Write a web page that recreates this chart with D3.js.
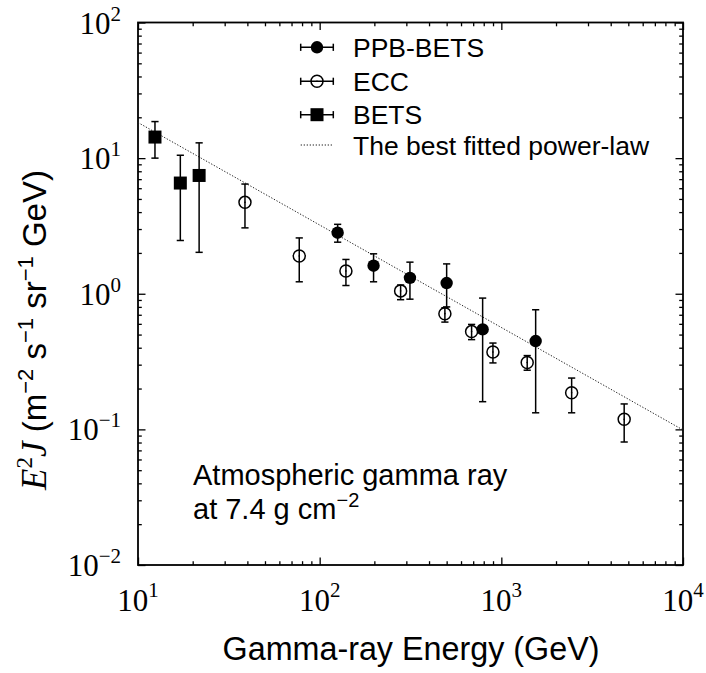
<!DOCTYPE html>
<html>
<head>
<meta charset="utf-8">
<script src="https://cdn.jsdelivr.net/npm/d3@7"></script>
<style>
  html, body { margin: 0; padding: 0; background: #fff; }
  svg { display: block; }
</style>
</head>
<body>
<svg id="chart" width="706" height="673"></svg>
<script>
// ---------- data ----------
const ppbE  = [125.6, 198, 314, 500, 789, 1545];
const ppbV  = [2.82, 1.61, 1.31, 1.20, 0.546, 0.448];
const ppbLo = [2.40, 1.225, 0.912, 0.80, 0.16, 0.1325];
const ppbHi = [3.25, 1.97, 1.71, 1.66, 0.929, 0.762];

const eccE  = [38.8, 77.2, 139.5, 279, 489, 686, 899, 1388, 2438, 4745];
const eccV  = [4.72, 1.90, 1.47, 1.05, 0.713, 0.526, 0.372, 0.311, 0.186, 0.1186];
const eccLo = [3.06, 1.225, 1.15, 0.904, 0.618, 0.459, 0.309, 0.273, 0.1325, 0.0807];
const eccHi = [6.44, 2.58, 1.79, 1.16, 0.789, 0.594, 0.433, 0.35, 0.239, 0.154];

const betsE  = [12.4, 17.1, 21.7];
const betsV  = [14.3, 6.55, 7.45];
const betsLo = [10.0, 2.47, 2.02];
const betsHi = [18.6, 10.5, 12.96];

// best fitted power law, end points on the frame
const fitE = [10, 10000];
const fitV = [18.3, 0.099];

const xTickExp = [1, 2, 3, 4];
const yTickExp = [-2, -1, 0, 1, 2];
const legendLabels = ["PPB-BETS", "ECC", "BETS", "The best fitted power-law"];

// ---------- layout ----------
const svg = d3.select("#chart");
const L = 138, R = 683, T = 22.5, B = 565;
const x = d3.scaleLog().domain([10, 1e4]).range([L, R]);
const y = d3.scaleLog().domain([1e-2, 1e2]).range([B, T]);
const SERIF = "'Liberation Serif', 'Times New Roman', serif";
const SANS = "'Liberation Sans', Arial, Helvetica, sans-serif";
const MINUS = "\u2212";

function minors(lo, hi) {
  const out = [];
  for (let e = lo; e < hi; e++) for (let k = 2; k <= 9; k++) out.push(k * Math.pow(10, e));
  return out;
}
const xMajor = xTickExp.map(e => Math.pow(10, e));
const yMajor = yTickExp.map(e => Math.pow(10, e));
const xMinor = minors(1, 4);
const yMinor = minors(-2, 2);

// ---------- ticks (inward, on all four sides) ----------
function axisGroup(axisFn, scale, vals, size, tr) {
  const g = svg.append("g").attr("transform", tr)
    .call(axisFn(scale).tickValues(vals).tickSize(size).tickFormat(""));
  g.select(".domain").remove();
  g.selectAll(".tick line").attr("stroke", "#000").attr("stroke-width", 1.3);
}
const MJ = 7.5, MN = 3.8;
axisGroup(d3.axisBottom, x, xMajor, -MJ, `translate(0,${B})`);
axisGroup(d3.axisBottom, x, xMinor, -MN, `translate(0,${B})`);
axisGroup(d3.axisTop, x, xMajor, -MJ, `translate(0,${T})`);
axisGroup(d3.axisTop, x, xMinor, -MN, `translate(0,${T})`);
axisGroup(d3.axisLeft, y, yMajor, -MJ, `translate(${L},0)`);
axisGroup(d3.axisLeft, y, yMinor, -MN, `translate(${L},0)`);
axisGroup(d3.axisRight, y, yMajor, -MJ, `translate(${R},0)`);
axisGroup(d3.axisRight, y, yMinor, -MN, `translate(${R},0)`);

// frame
svg.append("rect").attr("x", L).attr("y", T).attr("width", R - L).attr("height", B - T)
  .attr("fill", "none").attr("stroke", "#000").attr("stroke-width", 1.8);

// ---------- tick labels ----------
const xl = svg.append("g").attr("font-family", SERIF).attr("fill", "#000");
xTickExp.forEach(e => {
  const t = xl.append("text").attr("x", x(Math.pow(10, e))).attr("y", 611)
    .attr("text-anchor", "middle").attr("font-size", 31);
  t.append("tspan").text("10");
  t.append("tspan").attr("dy", -14).attr("font-size", 21).text(e < 0 ? MINUS + (-e) : String(e));
});
const yl = svg.append("g").attr("font-family", SERIF).attr("fill", "#000");
yTickExp.forEach(e => {
  const t = yl.append("text").attr("x", 121).attr("y", y(Math.pow(10, e)) + 11)
    .attr("text-anchor", "end").attr("font-size", 31);
  t.append("tspan").text("10");
  t.append("tspan").attr("dy", -13).attr("font-size", 21).text(e < 0 ? MINUS + (-e) : String(e));
});

// ---------- axis titles ----------
svg.append("text").attr("x", (L + R) / 2 + 0.5).attr("y", 660).attr("text-anchor", "middle")
  .attr("font-family", SANS).attr("font-size", 32.3).text("Gamma-ray Energy (GeV)");

const yt = svg.append("text").attr("transform", "translate(46,330) rotate(-90)")
  .attr("text-anchor", "middle").attr("font-family", SANS).attr("font-size", 33);
yt.append("tspan").attr("font-family", SERIF).attr("font-style", "italic").attr("font-size", 35).text("E");
yt.append("tspan").attr("font-family", SERIF).attr("font-size", 23).attr("dy", -14).text("2");
yt.append("tspan").attr("font-family", SERIF).attr("font-style", "italic").attr("font-size", 35).attr("dy", 14).text("J");
yt.append("tspan").text(" (m");
yt.append("tspan").attr("font-size", 22).attr("dy", -13).text(MINUS + "2");
yt.append("tspan").attr("dy", 13).text(" s");
yt.append("tspan").attr("font-size", 22).attr("dy", -13).text(MINUS + "1");
yt.append("tspan").attr("dy", 13).text(" sr");
yt.append("tspan").attr("font-size", 22).attr("dy", -13).text(MINUS + "1");
yt.append("tspan").attr("dy", 13).text(" GeV)");

// ---------- fit line ----------
svg.append("path")
  .datum(fitE.map((e, i) => [e, fitV[i]]))
  .attr("d", d3.line().x(d => x(d[0])).y(d => y(d[1])))
  .attr("fill", "none").attr("stroke", "#222").attr("stroke-width", 1)
  .attr("stroke-dasharray", "1.3,1.7");

// ---------- error bars & markers ----------
const CAP = 3.6;
function errorBars(E, V, Lo, Hi) {
  const g = svg.append("g").attr("stroke", "#000").attr("stroke-width", 1.5);
  E.forEach((e, i) => {
    const cx = x(e);
    g.append("line").attr("x1", cx).attr("x2", cx).attr("y1", y(Lo[i])).attr("y2", y(Hi[i]));
    g.append("line").attr("x1", cx - CAP).attr("x2", cx + CAP).attr("y1", y(Lo[i])).attr("y2", y(Lo[i]));
    g.append("line").attr("x1", cx - CAP).attr("x2", cx + CAP).attr("y1", y(Hi[i])).attr("y2", y(Hi[i]));
  });
}
errorBars(betsE, betsV, betsLo, betsHi);
errorBars(eccE, eccV, eccLo, eccHi);
errorBars(ppbE, ppbV, ppbLo, ppbHi);

function openCircle(g, cx, cy) {
  g.append("circle").attr("cx", cx).attr("cy", cy).attr("r", 6)
    .attr("fill", "none").attr("stroke", "#000").attr("stroke-width", 1.5);
  g.append("circle").attr("cx", cx).attr("cy", cy).attr("r", 0.8).attr("fill", "#000");
}
function filledCircle(g, cx, cy) {
  g.append("circle").attr("cx", cx).attr("cy", cy).attr("r", 6.2).attr("fill", "#000");
}
function square(g, cx, cy) {
  g.append("rect").attr("x", cx - 6.5).attr("y", cy - 6.5).attr("width", 13).attr("height", 13).attr("fill", "#000");
}
const mk = svg.append("g");
eccE.forEach((e, i) => openCircle(mk, x(e), y(eccV[i])));
ppbE.forEach((e, i) => filledCircle(mk, x(e), y(ppbV[i])));
betsE.forEach((e, i) => square(mk, x(e), y(betsV[i])));

// ---------- legend ----------
const lg = svg.append("g");
const rowY = [47.3, 81.3, 114.7, 145];
const sx0 = 300.7, sx1 = 333.3, sxm = 317;
const drawers = [filledCircle, openCircle, square];
legendLabels.forEach((lab, i) => {
  const cy = rowY[i];
  if (i < 3) {
    const g = lg.append("g").attr("stroke", "#000").attr("stroke-width", 1.5);
    g.append("line").attr("x1", sx0).attr("x2", sx1).attr("y1", cy).attr("y2", cy);
    g.append("line").attr("x1", sx0).attr("x2", sx0).attr("y1", cy - CAP).attr("y2", cy + CAP);
    g.append("line").attr("x1", sx1).attr("x2", sx1).attr("y1", cy - CAP).attr("y2", cy + CAP);
    drawers[i](lg, sxm, cy);
  } else {
    lg.append("line").attr("x1", sx0).attr("x2", sx1).attr("y1", cy).attr("y2", cy)
      .attr("stroke", "#222").attr("stroke-width", 1).attr("stroke-dasharray", "1.3,1.7");
  }
  lg.append("text").attr("x", 353).attr("y", cy + 9.5).attr("font-family", SANS)
    .attr("font-size", 26.5).text(lab);
});

// ---------- annotation ----------
const an = svg.append("g").attr("font-family", SANS).attr("font-size", 29);
an.append("text").attr("x", 193).attr("y", 485).text("Atmospheric gamma ray");
const a2 = an.append("text").attr("x", 193).attr("y", 519);
a2.append("tspan").text("at 7.4 g cm");
a2.append("tspan").attr("font-size", 20).attr("dy", -12).text(MINUS + "2");
</script>
</body>
</html>
